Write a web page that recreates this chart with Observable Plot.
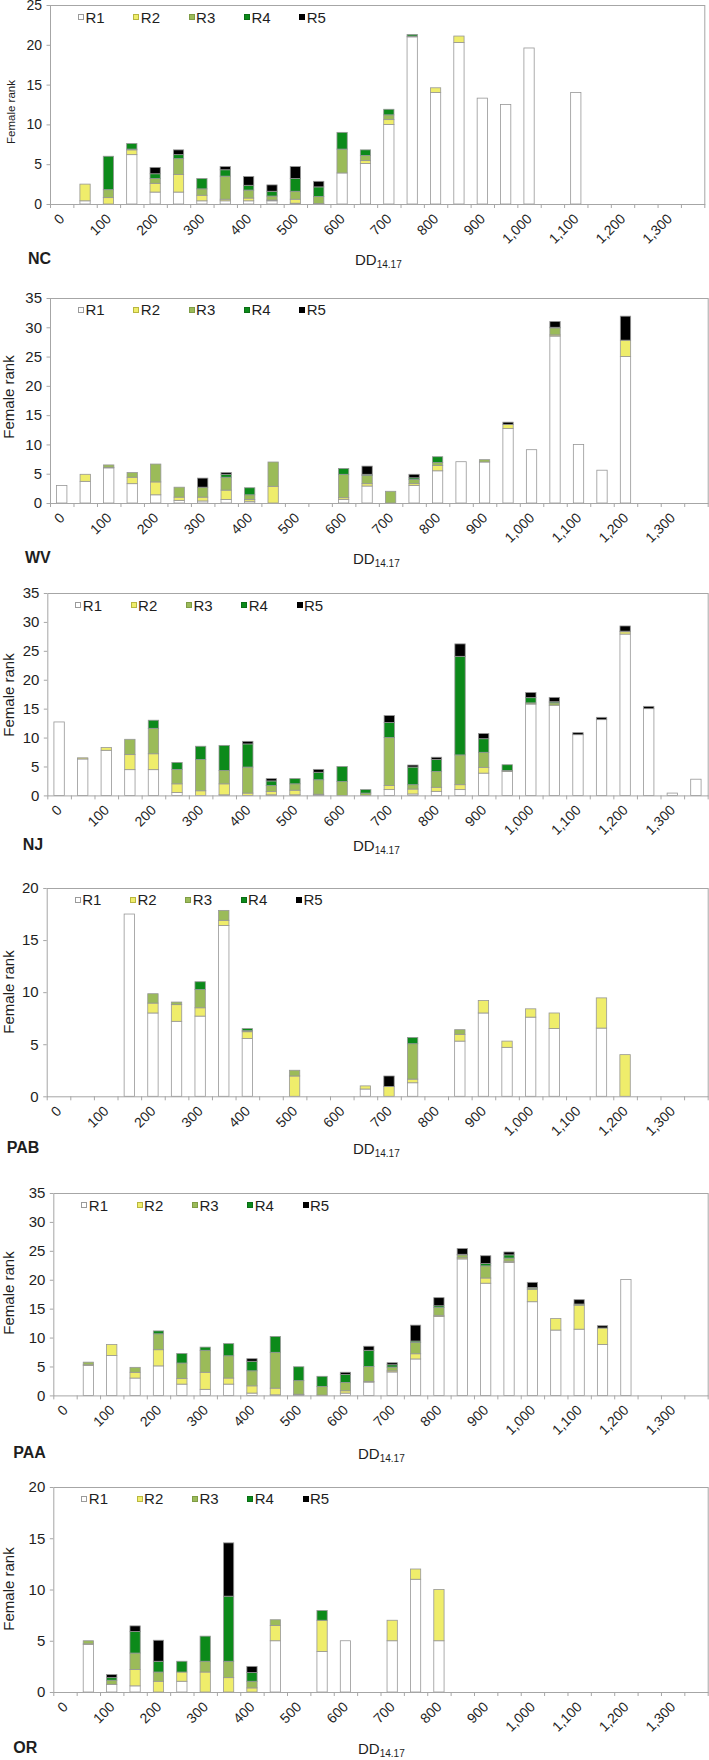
<!DOCTYPE html>
<html>
<head>
<meta charset="utf-8">
<script src="https://cdn.jsdelivr.net/npm/d3@7"></script>
<script src="https://cdn.jsdelivr.net/npm/@observablehq/plot@0.6"></script>
<style>
  body { margin: 0; background: #fff; }
  #root { position: relative; width: 709px; height: 1760px; overflow: hidden;
          font-family: "Liberation Sans", Arial, Helvetica, sans-serif; color: #1e1e1e; }
  .abs { position: absolute; white-space: nowrap; line-height: 1; }
  svg { overflow: visible; }
</style>
</head>
<body>
<div id="root"></div>
<script>
// ---------------- DATA ----------------
const DD = [0,50,100,150,200,250,300,350,400,450,500,550,600,650,700,750,800,850,900,950,1000,1050,1100,1150,1200,1250,1300,1350];
const SERIES = ["R1","R2","R3","R4","R5"];
const TICK_VALUES = [0,100,200,300,400,500,600,700,800,900,1000,1100,1200,1300];
const TICK_LABELS = ["0","100","200","300","400","500","600","700","800","900","1,000","1,100","1,200","1,300"];
const Y_LABEL = "Female rank";
const X_LABEL = "DD";
const X_LABEL_SUB = "14.17";

// NC
const NC_R1 = [0,0.4,0,6.2,1.5,1.5,0.4,0.4,0.4,0.4,0.1,0,3.9,5.1,10.0,21.0,14.0,20.3,13.3,12.5,19.6,0,14.0,0,0,0,0,0];
const NC_R2 = [0,2.1,0.8,0.6,1.1,2.2,0.7,0.2,0.35,0.1,0.5,0.05,0,0.35,0.6,0,0.6,0.8,0,0,0,0,0,0,0,0,0,0];
const NC_R3 = [0,0,1.0,0.1,0.6,2.0,0.8,2.9,1.0,0.5,1.0,0.9,3.0,0.65,0.6,0.1,0,0,0,0,0,0,0,0,0,0,0,0];
const NC_R4 = [0,0,4.2,0.7,0.6,0.5,1.3,0.8,0.6,0.6,1.6,1.2,2.1,0.7,0.7,0.2,0,0,0,0,0,0,0,0,0,0,0,0];
const NC_R5 = [0,0,0,0,0.8,0.6,0,0.4,1.1,0.8,1.5,0.7,0,0,0,0,0,0,0,0,0,0,0,0,0,0,0,0];

// WV
const WV_R1 = [3.0,3.7,6.0,3.3,1.4,0.45,0.35,0.6,0.3,0,0,0,0.6,2.9,0,3.0,5.5,7.05,7.0,12.7,9.1,28.5,10.0,5.6,25.0,0,0,0];
const WV_R2 = [0,1.2,0.1,1.1,2.2,0.55,0.65,1.6,0.3,2.85,0,0,0.3,0.4,0,0.3,0.9,0,0,0.7,0,0.2,0,0,2.8,0,0,0];
const WV_R3 = [0,0,0.4,0.8,3.05,1.7,1.7,2.2,0.8,4.15,0,0,4.0,1.4,2.0,0.7,0.5,0,0.4,0,0,1.2,0,0,0,0,0,0];
const WV_R4 = [0,0,0,0,0,0,0,0.5,1.2,0,0,0,1.0,0.2,0,0.3,1.0,0,0,0,0,0.1,0,0,0,0,0,0];
const WV_R5 = [0,0,0,0,0,0,1.55,0.3,0,0,0,0,0,1.4,0,0.6,0,0,0,0.4,0,1.0,0,0,4.1,0,0,0];

// NJ
const NJ_R1 = [12.7,6.3,7.8,4.45,4.45,0.5,0,0.1,0,0.1,0.1,0.1,0,0,1.0,0.25,0.7,1.0,3.85,4.15,15.8,15.6,10.5,13.1,27.9,15.0,0.4,2.8];
const NJ_R2 = [0,0.2,0.5,2.6,2.75,1.5,0.8,1.9,0.4,0.6,0.8,0.1,0,0,0.7,0.85,0.7,0.85,1.0,0,0,0,0,0,0.4,0,0,0];
const NJ_R3 = [0,0,0,2.65,4.4,2.5,5.4,2.3,4.5,1.0,1.1,2.5,2.4,0.4,8.3,0.75,2.75,5.15,2.6,0.15,0.2,0.4,0,0,0.1,0,0,0];
const NJ_R4 = [0,0,0,0,1.4,1.2,2.3,4.35,4.0,0.8,0.9,1.3,2.6,0.6,2.6,3.05,2.05,17.05,2.35,1.0,0.9,0.2,0,0,0,0,0,0];
const NJ_R5 = [0,0,0,0,0,0,0,0,0.45,0.4,0,0.5,0,0,1.2,0.35,0.4,2.15,0.9,0,0.9,0.75,0.35,0.4,0.9,0.4,0,0];

// PAB
const PAB_R1 = [0,0,0,17.5,8.0,7.2,7.7,16.4,5.55,0,0,0,0,0.7,0,1.3,0,5.3,8.0,4.7,7.6,6.5,0,6.55,0,0,0,0];
const PAB_R2 = [0,0,0,0,0.95,1.6,0.8,0.5,0.65,0,1.95,0,0,0.3,0.95,0.35,0,0.65,1.2,0.6,0.8,1.5,0,2.9,4.0,0,0,0];
const PAB_R3 = [0,0,0,0,0.9,0.25,1.75,0.95,0.1,0,0.55,0,0,0,0,3.4,0,0.45,0,0,0,0,0,0,0,0,0,0];
const PAB_R4 = [0,0,0,0,0,0,0.75,0,0.2,0,0,0,0,0,0,0.6,0,0,0,0,0,0,0,0,0,0,0,0];
const PAB_R5 = [0,0,0,0,0,0,0,0,0,0,0,0,0,0,1.0,0,0,0,0,0,0,0,0,0,0,0,0,0];

// PAA
const PAA_R1 = [0,5.2,6.9,3.0,5.1,1.95,1.05,1.95,0.4,0.1,0.1,0,0.4,2.3,4.05,6.3,13.65,23.6,19.4,23.0,16.2,11.3,11.45,8.8,20.05,0,0,0];
const PAA_R2 = [0,0.1,1.9,1.0,2.8,0.95,2.95,1.05,1.25,1.15,0.1,0.05,0.4,0.1,0.2,0.9,0.2,0.2,0.9,0.2,2.1,2.0,4.15,2.85,0,0,0,0];
const PAA_R3 = [0,0.45,0,0.85,2.75,2.7,3.8,3.85,2.6,6.2,2.35,1.5,1.45,2.6,0.65,1.95,1.35,0.5,2.1,0.55,0.25,0,0.2,0,0,0,0,0];
const PAA_R4 = [0,0,0,0,0.5,1.65,0.55,2.1,1.65,2.75,2.4,1.75,1.35,2.8,0.4,0.25,0.3,0.1,0.4,0.55,0.1,0,0,0,0,0,0,0];
const PAA_R5 = [0,0,0,0,0,0,0,0,0.45,0,0,0,0.4,0.7,0.35,2.75,1.4,1.0,1.35,0.5,0.9,0,0.75,0.4,0,0,0,0];

// OR
const OR_R1 = [0,4.65,0.75,0.6,0,1.05,0,0,0,5.0,0,3.95,5.0,0,5.0,11.0,5.0,0,0,0,0,0,0,0,0,0,0,0];
const OR_R2 = [0,0.05,0,1.6,1.05,0.9,1.95,1.4,0.4,1.5,0,3.05,0,0,2.0,1.0,5.0,0,0,0,0,0,0,0,0,0,0,0];
const OR_R3 = [0,0.3,0.4,1.6,0.9,0,1.05,1.6,0.65,0.55,0,0,0,0,0,0,0,0,0,0,0,0,0,0,0,0,0,0];
const OR_R4 = [0,0,0.25,2.1,1.05,1.05,2.45,6.35,0.85,0,0,0.95,0,0,0,0,0,0,0,0,0,0,0,0,0,0,0,0];
const OR_R5 = [0,0,0.3,0.55,2.05,0,0,5.2,0.6,0,0,0,0,0,0,0,0,0,0,0,0,0,0,0,0,0,0,0];

// ---------------- STYLE / LAYOUT ----------------
const COLORS = ["#ffffff", "#efed6b", "#9bbb59", "#0c8a1a", "#000000"];
const SWATCH_BORDER = ["#9a9a9a", "#b8b640", "#7f9c45", "#0a6e15", "#000000"];
const GRID_GRAY = "#a6a6a6";
const W = 709;

const panels = [
  {name: "NC",  data: [NC_R1, NC_R2, NC_R3, NC_R4, NC_R5],      ymax: 25, left: 50,   right: 704.3, top: 5,      bottom: 204,    base: 264.5, nameX: 28, ddX: 355, ylabX: 12, ylabY: 112, ylabFs: 11.5, ytickFs: 14},
  {name: "WV",  data: [WV_R1, WV_R2, WV_R3, WV_R4, WV_R5],      ymax: 35, left: 50,   right: 707.7, top: 297.7,  bottom: 502.7,  base: 564,   nameX: 25, ddX: 353, ylabX: 8,  ylabY: 397, ylabFs: 15, ytickFs: 15},
  {name: "NJ",  data: [NJ_R1, NJ_R2, NJ_R3, NJ_R4, NJ_R5],      ymax: 35, left: 47.3, right: 707.7, top: 593.3,  bottom: 795.7,  base: 851,   nameX: 22.7, ddX: 353, ylabX: 8, ylabY: 695, ylabFs: 15, ytickFs: 15},
  {name: "PAB", data: [PAB_R1, PAB_R2, PAB_R3, PAB_R4, PAB_R5], ymax: 20, left: 46.7, right: 707.7, top: 887.7,  bottom: 1096,   base: 1154,  nameX: 6.7, ddX: 353, ylabX: 8,  ylabY: 992, ylabFs: 15, ytickFs: 15},
  {name: "PAA", data: [PAA_R1, PAA_R2, PAA_R3, PAA_R4, PAA_R5], ymax: 35, left: 53.3, right: 707.7, top: 1193.3, bottom: 1395.7, base: 1459,  nameX: 13.3, ddX: 358, ylabX: 8, ylabY: 1293, ylabFs: 15, ytickFs: 15},
  {name: "OR",  data: [OR_R1, OR_R2, OR_R3, OR_R4, OR_R5],      ymax: 20, left: 53.3, right: 707.7, top: 1486.7, bottom: 1691.7, base: 1754,  nameX: 13.3, ddX: 358, ylabX: 8, ylabY: 1589, ylabFs: 15, ytickFs: 15}
];

const root = document.getElementById("root");
const MT = 8, MB = 50;
const HALF = 11; // half bar width in DD units (category step is 50)
const BOUNDARIES = d3.range(-25, 1376, 50);

function addDiv(html, css) {
  const d = document.createElement("div");
  d.className = "abs";
  d.style.cssText = css;
  d.innerHTML = html;
  root.appendChild(d);
  return d;
}
function addText(html, x, baseline, fs, extra = "") {
  return addDiv(html, `left:${x}px;top:${baseline - 0.8465 * fs}px;font-size:${fs}px;${extra}`);
}

for (const p of panels) {
  // stacked rows
  const rows = [];
  DD.forEach((dd, i) => {
    let acc = 0;
    SERIES.forEach((s, k) => {
      const v = p.data[k][i];
      if (v > 0) {
        rows.push({dd, series: s, y1: acc, y2: acc + v});
        acc += v;
      }
    });
  });

  const chart = Plot.plot({
    width: W,
    height: (p.bottom - p.top) + MT + MB,
    marginLeft: p.left,
    marginRight: W - p.right,
    marginTop: MT,
    marginBottom: MB,
    x: {type: "linear", domain: [-25, 1375]},
    y: {domain: [0, p.ymax]},
    color: {domain: SERIES, range: COLORS},
    style: {fontFamily: '"Liberation Sans", Arial, sans-serif', color: "#1e1e1e", background: "transparent", overflow: "visible"},
    marks: [
      Plot.rect(rows, {
        x1: d => d.dd - HALF, x2: d => d.dd + HALF,
        y1: "y1", y2: "y2", fill: "series",
        stroke: "#979797", strokeWidth: 0.8
      }),
      Plot.axisY({ticks: d3.range(0, p.ymax + 1, 5), tickSize: 3.5, tickPadding: 5,
                  label: null, fontSize: p.ytickFs, stroke: GRID_GRAY, fill: "#1e1e1e"}),
      Plot.axisX({ticks: BOUNDARIES, tickSize: 4, tickFormat: () => "", label: null, stroke: GRID_GRAY}),
      Plot.axisX({ticks: TICK_VALUES, tickSize: 0, tickPadding: 12, tickRotate: -45,
                  tickFormat: v => TICK_LABELS[TICK_VALUES.indexOf(v)],
                  label: null, fontSize: 14, fill: "#1e1e1e"}),
      Plot.frame({stroke: GRID_GRAY, strokeWidth: 1})
    ]
  });
  const holder = document.createElement("div");
  holder.style.cssText = `position:absolute;left:0;top:${p.top - MT}px;`;
  holder.appendChild(chart);
  root.appendChild(holder);

  // y label
  addDiv(Y_LABEL, `left:${p.ylabX}px;top:${p.ylabY}px;font-size:${p.ylabFs}px;transform:translate(-50%,-50%) rotate(-90deg);`);

  // panel name
  addText(p.name, p.nameX, p.base, 16, "font-weight:bold;");

  // x label with subscript
  addText(`${X_LABEL}<span style="font-size:10px;position:relative;top:3px;">${X_LABEL_SUB}</span>`, p.ddX, p.base, 15);

  // legend
  const cy = p.top + 12;
  SERIES.forEach((s, i) => {
    const x = p.left + 28 + i * 55.3;
    addDiv("", `left:${x}px;top:${cy - 3}px;width:6px;height:6px;box-sizing:border-box;background:${COLORS[i]};border:1px solid ${SWATCH_BORDER[i]};`);
    addText(s, x + 7.5, cy + 5.4, 15);
  });
}
</script>
</body>
</html>
